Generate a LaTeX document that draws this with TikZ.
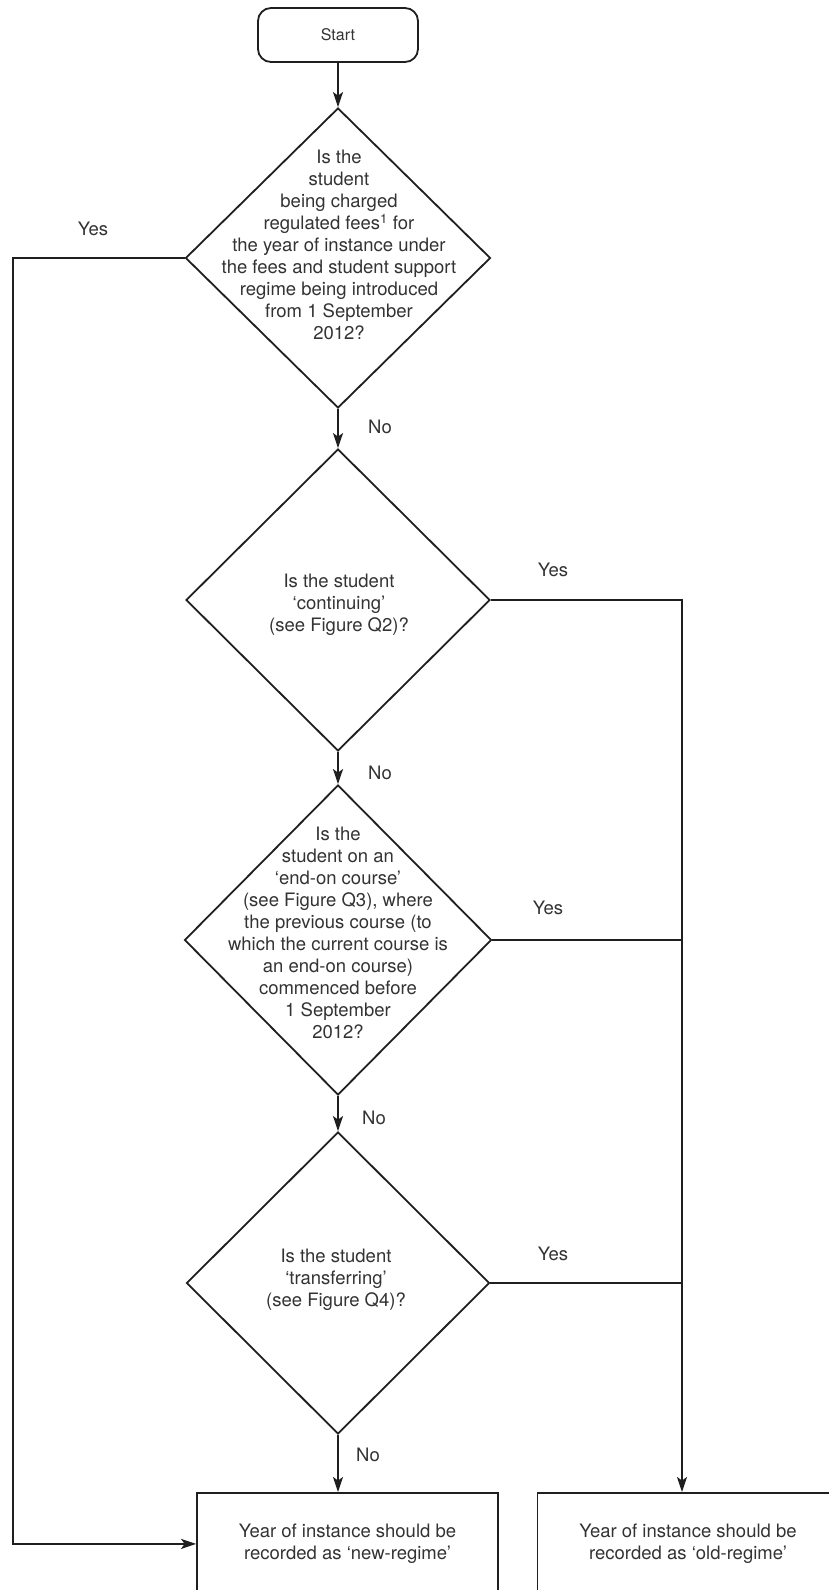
\documentclass[tikz,border=0pt]{standalone}
\usepackage{fontspec}
\setmainfont{TeX Gyre Heros}
\usetikzlibrary{shapes.geometric,arrows.meta}
\begin{document}
\begin{tikzpicture}[x=1pt,y=-1pt,
  line/.style={draw=black!88, line width=1.8pt},
  arr/.style={line, -{Stealth[length=15pt,width=10pt,inset=3.5pt]}},
  dia/.style={diamond, draw=black!88, line width=1.8pt, inner sep=0pt},
  txt/.style={text=black!80, align=center, font=\fontsize{18.5}{22}\selectfont, inner sep=0pt},
  lbl/.style={text=black!80, font=\fontsize{18.5}{22}\selectfont, inner sep=0pt},
  box/.style={rectangle, draw=black!88, line width=1.8pt, minimum width=301pt, minimum height=102pt, anchor=north, text=black!80, align=center, font=\fontsize{18.5}{22}\selectfont},
  startbox/.style={rectangle, rounded corners=13pt, draw=black!88, line width=1.8pt, minimum width=160pt, minimum height=54pt, text=black!80, font=\fontsize{16}{20}\selectfont}
]
\useasboundingbox[fill=white] (0,0) rectangle (828,1590);

\node[startbox] (start) at (338,35) {Start};

\node[dia, minimum width=305pt, minimum height=300pt] (d1) at (338,258) {};
\node[txt] (t1) at (339,245) {Is the\\student\\being charged\\regulated fees\textsuperscript{1} for\\the year of instance under\\the fees and student support\\regime being introduced\\from 1 September\\2012?};

\node[dia, minimum width=304pt, minimum height=302pt] (d2) at (338,600) {};
\node[txt] (t2) at (339,605) {Is the student\\‘continuing’\\(see Figure Q2)?};

\node[dia, minimum width=307pt, minimum height=310pt] (d3) at (338,940) {};
\node[txt] (t3) at (338,933) {Is the\\student on an\\‘end-on course’\\(see Figure Q3), where\\the previous course (to\\which the current course is\\an end-on course)\\commenced before\\1 September\\2012?};

\node[dia, minimum width=303pt, minimum height=302pt] (d4) at (338,1283) {};
\node[txt] (t4) at (336,1280) {Is the student\\‘transferring’\\(see Figure Q4)?};

\node[box] (new) at (347.5,1492) {Year of instance should be\\recorded as ‘new-regime’};
\node[box] (old) at (688,1492) {Year of instance should be\\recorded as ‘old-regime’};

\coordinate (lc) at (13,258);
\coordinate (rc) at (682,600);

\draw[arr] (start) -- (d1.north);
\draw[arr] (d1.south) -- (d2.north);
\draw[arr] (d2.south) -- (d3.north);
\draw[arr] (d3.south) -- (d4.north);
\draw[arr] (d4.south) -- (d4.south |- new.north);

\draw[arr] (d1.west) -- (lc) |- (new.west);
\draw[arr] (d2.east) -- (rc) -- (rc |- old.north);
\draw[line] (d3.east) -- (d3.east -| rc);
\draw[line] (d4.east) -- (d4.east -| rc);

\node[lbl] (n1) at (380,427) {No};
\node[lbl] (n2) at (380,773) {No};
\node[lbl] (n3) at (374,1118) {No};
\node[lbl] (n4) at (368,1455) {No};
\node[lbl] (y1) at (93,229) {Yes};
\node[lbl] (y2) at (553,570) {Yes};
\node[lbl] (y3) at (548,908) {Yes};
\node[lbl] (y4) at (553,1254) {Yes};
\end{tikzpicture}
\end{document}
